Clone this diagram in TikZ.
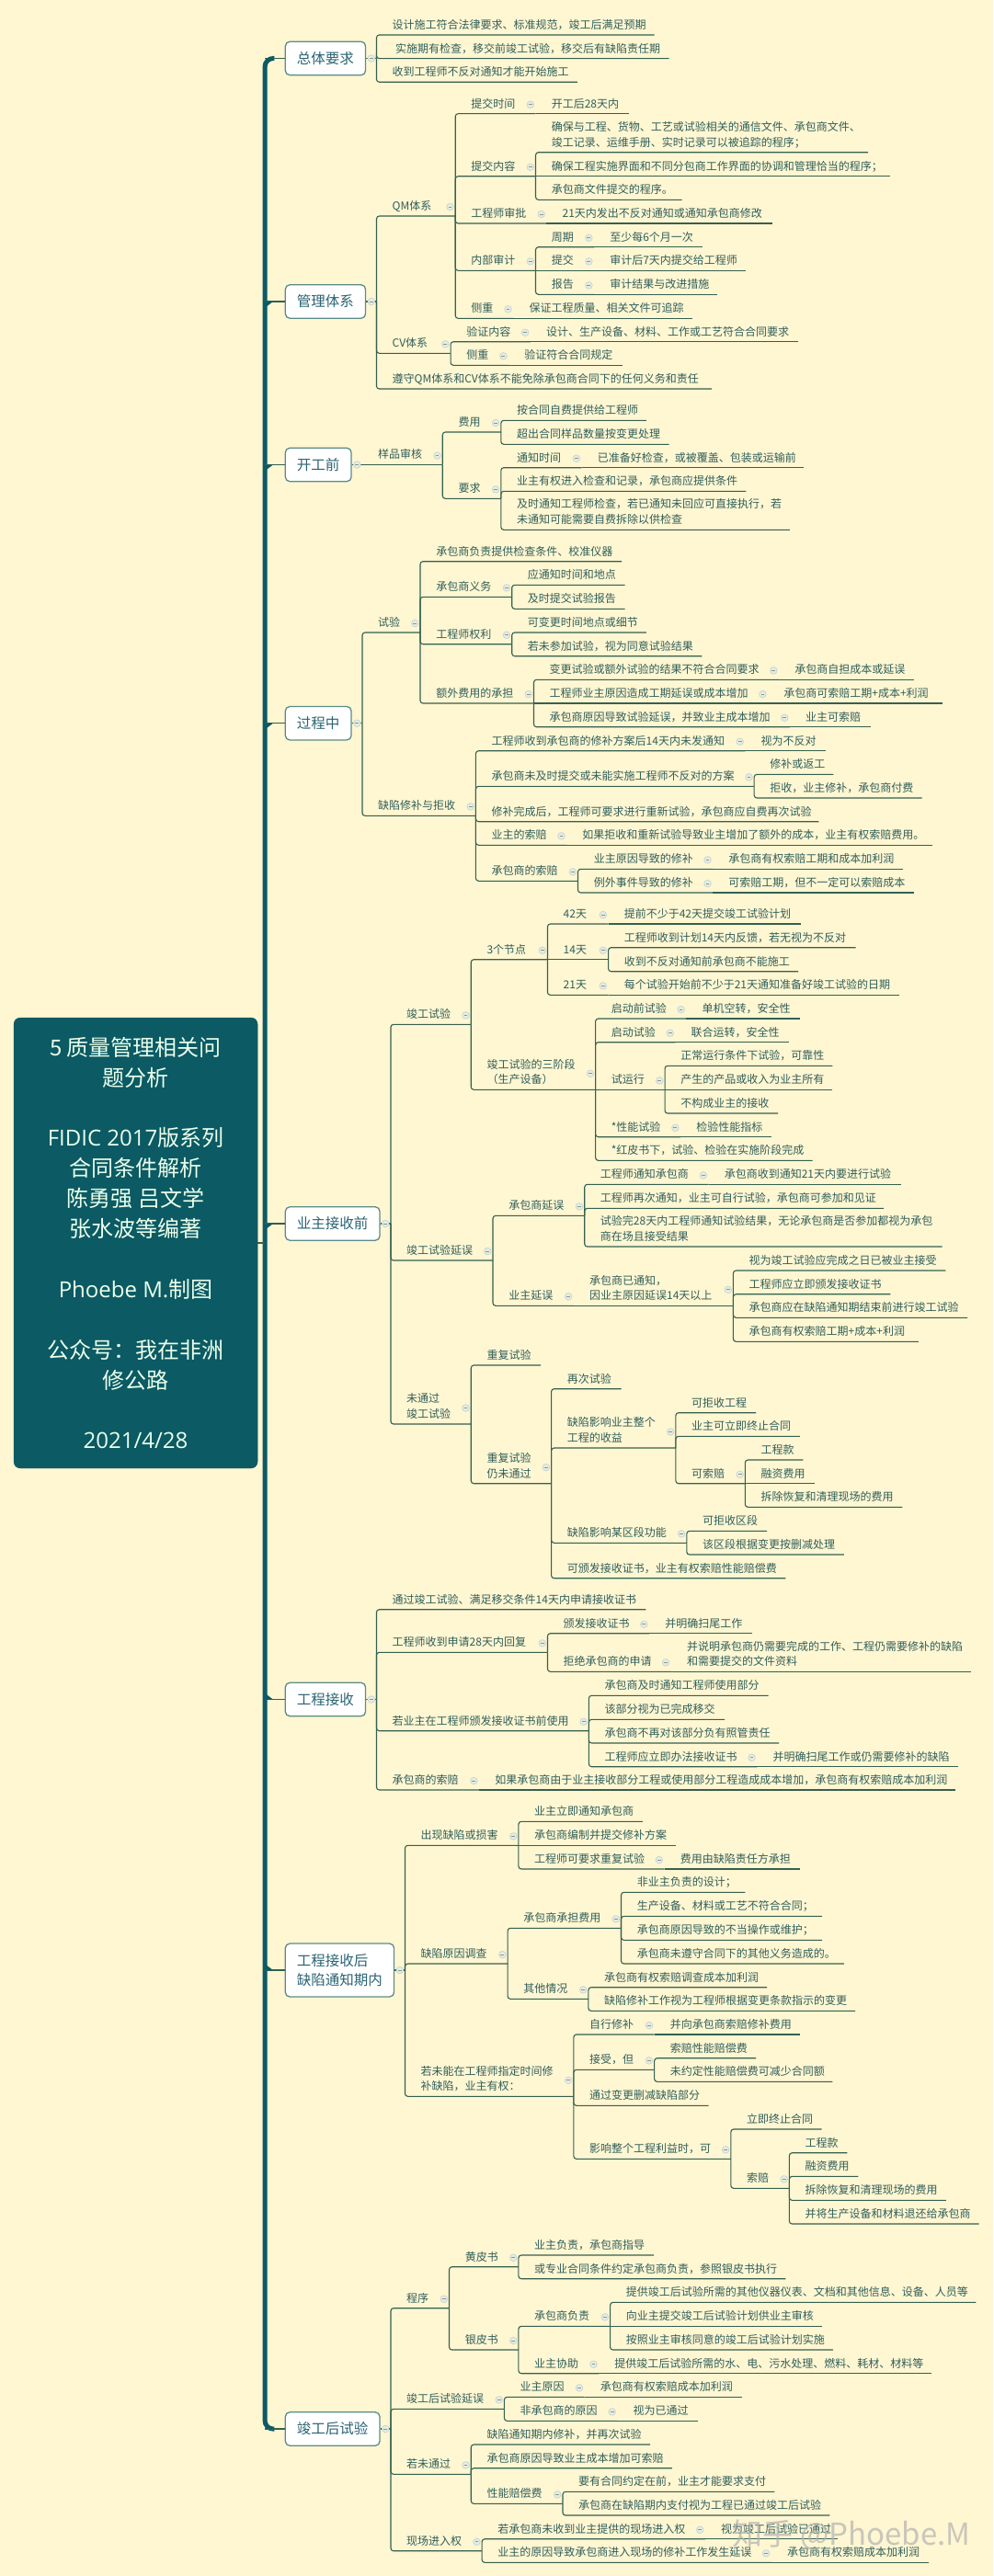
\documentclass[tikz,border=0pt]{standalone}
\usepackage{fontspec}
\setmainfont{Noto Sans CJK SC}
\newfontfamily\latf{Open Sans}
\definecolor{bgc}{HTML}{FFF6D2}
\definecolor{tealc}{HTML}{0B5A64}
\definecolor{linec}{HTML}{35604F}
\definecolor{txtc}{HTML}{2F5F5A}
\definecolor{topicline}{HTML}{5C8C88}
\definecolor{topictxt}{HTML}{2B6472}
\definecolor{circf}{HTML}{E6EDE0}
\definecolor{circl}{HTML}{C4D5D2}
\tikzset{
 ln/.style={draw=linec,line width=1.1pt},
 txt/.style={anchor=south west,inner sep=0pt,align=left,text=txtc,font=\fontsize{12}{16.7}\selectfont},
 topicbox/.style={draw=topicline,line width=1.3pt,fill=white,rounded corners=5pt,inner sep=0pt,align=left,text=topictxt,font=\fontsize{15.5}{21.3}\selectfont},
 rootbox/.style={fill=tealc,draw=tealc,rounded corners=7pt,inner sep=0pt,align=center,text=white!92!green,font=\fontsize{24}{32.9}\selectfont,minimum width=265pt,minimum height=490pt},
 trunk/.style={draw=tealc,line width=5pt,rounded corners=9pt},
 marktxt/.style={inner sep=0pt,text=gray!60,opacity=.7,font=\fontsize{33}{36}\selectfont},
}
% mark on the parent (small collapse circle), drawn once
\newcommand\Mk[1]{%
  \ifcsname mk@#1\endcsname\else
    \expandafter\gdef\csname mk@#1\endcsname{1}%
    \coordinate (mktmp) at (#1-e |- #1.center);
    \fill[circf] ([xshift=-5.7pt]mktmp) circle [radius=3.8pt];
    \draw[circl,line width=.7pt] ([xshift=-5.7pt]mktmp) circle [radius=3.8pt];
    \draw[circl!70!black,line width=.6pt] ([xshift=-7.6pt]mktmp) -- ([xshift=-3.8pt]mktmp);
  \fi}
\newcommand\Keep[3]{%
  \expandafter\xdef\csname px@#1\endcsname{#2}%
  \expandafter\xdef\csname py@#1\endcsname{#3}}
% parent, name, x end, y of underline, text
\newcommand\It[5]{%
  \edef\mypx{\csname px@#1\endcsname}\edef\mypy{\csname py@#1\endcsname}%
  \coordinate (#2-s) at (\mypx,#4);
  \coordinate (#2-e) at (#3,#4);
  \node[txt] (#2) at ({\mypx+33},#4-1.4) {#5\strut};
  \ifdim\mypy pt=#4pt
    \draw[ln] (#1-e) -- (#2-e);
  \else
    \draw[ln,rounded corners=3pt] (#1-e) -- (#2-s) -- (#2-e);
  \fi
  \Mk{#1}%
  \Keep{#2}{#3}{#4}}
% [height], name, left, right, bracket x, centre y, text
\newcommand\Tp[6][36.5]{%
  \pgfmathsetmacro\mytw{(#4-#3)*0.51658}%
  \node[topicbox,minimum width=\mytw pt,minimum height=#1pt] (#2) at ({(#3+#4)/2},#6) {\mytopictext};
  \coordinate (#2-e) at (#5,#6);
  \coordinate (#2-t) at (35,#6);
  \draw[ln] (#2.east) -- (#2-e);
  \draw[ln] (#2-t) -- (#2.west);
  \ifdim#6pt<1352pt
    \fill[tealc] (37,#6) -- (52,#6) -- (37,#6+6) -- cycle;
  \else
    \fill[tealc] (37,#6) -- (52,#6) -- (37,#6-6) -- cycle;
  \fi
  \Keep{#2}{#5}{#6}}
\begin{document}
\begin{tikzpicture}[x=0.51658pt,y=-1pt]
\useasboundingbox (-522.66,0) rectangle (1568,2802);
\fill[bgc] (-522.66,0) rectangle (1568,2802);
\node[rootbox] (root) at (-237,1352) {5 质量管理相关问\\题分析\\~\\{\latf FIDIC 2017}版系列\\合同条件解析\\陈勇强 吕文学\\张水波等编著\\~\\{\latf Phoebe M.}制图\\~\\公众号：我在非洲\\修公路\\~\\{\latf 2021/4/28}};
\coordinate (tr-a) at (55,63.5);
\coordinate (tr-b) at (55,2642);
\coordinate (tr-m) at (35,1352);
\draw[trunk] (tr-a) -- (35,63.5) -- (35,2642) -- (tr-b);
\draw[ln] (root.east) -- (tr-m);
% ---- 总体要求
\def\mytopictext{总体要求}\Tp{ta}{78}{247}{270}{63.5}
\It{ta}{a1}{855}{38}{设计施工符合法律要求、标准规范，竣工后满足预期}
\It{ta}{a2}{886}{63.7}{\hspace{3.5pt}实施期有检查，移交前竣工试验，移交后有缺陷责任期}
\It{ta}{a3}{693}{89.3}{收到工程师不反对通知才能开始施工}
% ---- 管理体系
\def\mytopictext{管理体系}\Tp{tb}{78}{247}{270}{328}
\It{tb}{b1}{436}{235}{QM体系}
\It{b1}{b11}{605}{123.7}{提交时间}
\It{b11}{b111}{802}{123.7}{开工后28天内}
\It{b1}{b12}{605}{191.7}{提交内容}
\It{b12}{b121}{1305}{165.7}{确保与工程、货物、工艺或试验相关的通信文件、承包商文件、\\竣工记录、运维手册、实时记录可以被追踪的程序；}
\It{b12}{b122}{1352}{191.7}{确保工程实施界面和不同分包商工作界面的协调和管理恰当的程序；}
\It{b12}{b123}{913}{217.3}{承包商文件提交的程序。}
\It{b1}{b13}{628}{243}{工程师审批}
\It{b13}{b131}{1103}{243}{21天内发出不反对通知或通知承包商修改}
\It{b1}{b14}{605}{294.3}{内部审计}
\It{b14}{b141}{728}{268.7}{周期}
\It{b141}{b1411}{957}{268.7}{至少每6个月一次}
\It{b14}{b142}{728}{294.3}{提交}
\It{b142}{b1421}{1048}{294.3}{审计后7天内提交给工程师}
\It{b14}{b143}{728}{320.3}{报告}
\It{b143}{b1431}{988}{320.3}{审计结果与改进措施}
\It{b1}{b15}{558}{346.3}{侧重}
\It{b15}{b151}{935}{346.3}{保证工程质量、相关文件可追踪}
\It{tb}{b2}{426}{384.3}{CV体系}
\It{b2}{b21}{594}{371.7}{验证内容}
\It{b21}{b211}{1157}{371.7}{设计、生产设备、材料、工作或工艺符合合同要求}
\It{b2}{b22}{548}{397.3}{侧重}
\It{b22}{b221}{787}{397.3}{验证符合合同规定}
\It{tb}{b3}{976}{423}{遵守QM体系和CV体系不能免除承包商合同下的任何义务和责任}
% ---- 开工前
\def\mytopictext{开工前}\Tp{tc}{78}{217}{240}{505.5}
\It{tc}{c1}{409}{505.5}{样品审核}
\It{c1}{c11}{532}{470}{费用}
\It{c11}{c111}{838}{457.3}{按合同自费提供给工程师}
\It{c11}{c112}{886}{483.3}{超出合同样品数量按变更处理}
\It{c1}{c12}{532}{542.3}{要求}
\It{c12}{c121}{702}{508.7}{通知时间}
\It{c121}{c1211}{1170}{508.7}{已准备好检查，或被覆盖、包装或运输前}
\It{c12}{c122}{1048}{534.3}{业主有权进入检查和记录，承包商应提供条件}
\It{c12}{c123}{1140}{576.3}{及时通知工程师检查，若已通知未回应可直接执行，若\\未通知可能需要自费拆除以供检查}
% ---- 过程中
\def\mytopictext{过程中}\Tp{td}{78}{217}{240}{786.7}
\It{td}{d1}{362}{688}{试验}
\It{d1}{d11}{786}{610.7}{承包商负责提供检查条件、校准仪器}
\It{d1}{d12}{555}{649.3}{承包商义务}
\It{d12}{d121}{793}{636.3}{应通知时间和地点}
\It{d12}{d122}{793}{662.3}{及时提交试验报告}
\It{d1}{d13}{555}{700.7}{工程师权利}
\It{d13}{d131}{838}{688}{可变更时间地点或细节}
\It{d13}{d132}{955}{713.7}{若未参加试验，视为同意试验结果}
\It{d1}{d14}{601}{765}{额外费用的承担}
\It{d14}{d141}{1117}{739.3}{变更试验或额外试验的结果不符合合同要求}
\It{d141}{d1411}{1402}{739.3}{承包商自担成本或延误}
\It{d14}{d142}{1094}{765}{工程师业主原因造成工期延误或成本增加}
\It{d142}{d1421}{1461}{765}{承包商可索赔工期+成本+利润}
\It{d14}{d143}{1140}{790.7}{承包商原因导致试验延误，并致业主成本增加}
\It{d143}{d1431}{1310}{790.7}{业主可索赔}
\It{td}{d2}{479}{887.3}{缺陷修补与拒收}
\It{d2}{d21}{1046}{816.7}{工程师收到承包商的修补方案后14天内未发通知}
\It{d21}{d211}{1215}{816.7}{视为不反对}
\It{d2}{d22}{1065}{855.3}{承包商未及时提交或未能实施工程师不反对的方案}
\It{d22}{d221}{1232}{842.3}{修补或返工}
\It{d22}{d222}{1418}{868}{拒收，业主修补，承包商付费}
\It{d2}{d23}{1201}{893.7}{修补完成后，工程师可要求进行重新试验，承包商应自费再次试验}
\It{d2}{d24}{670}{919.3}{业主的索赔}
\It{d24}{d241}{1440}{919.3}{如果拒收和重新试验导致业主增加了额外的成本，业主有权索赔费用。}
\It{d2}{d25}{694}{958.3}{承包商的索赔}
\It{d25}{d251}{978}{945.3}{业主原因导致的修补}
\It{d251}{d2511}{1378}{945.3}{承包商有权索赔工期和成本加利润}
\It{d25}{d252}{978}{971}{例外事件导致的修补}
\It{d252}{d2521}{1402}{971}{可索赔工期，但不一定可以索赔成本}
% ---- 业主接收前
\def\mytopictext{业主接收前}\Tp{te}{78}{277}{300}{1331}
\It{te}{e1}{469}{1114.3}{竣工试验}
\It{e1}{e11}{630}{1043.7}{3个节点}
\It{e11}{e111}{758}{1005}{42天}
\It{e111}{e1111}{1163}{1005}{提前不少于42天提交竣工试验计划}
\It{e11}{e112}{758}{1043.7}{14天}
\It{e112}{e1121}{1279}{1030.7}{工程师收到计划14天内反馈，若无视为不反对}
\It{e112}{e1122}{1158}{1056.7}{收到不反对通知前承包商不能施工}
\It{e11}{e113}{758}{1082.3}{21天}
\It{e113}{e1131}{1370}{1082.3}{每个试验开始前不少于21天通知准备好竣工试验的日期}
\It{e1}{e12}{731}{1185.3}{竣工试验的三阶段\\（生产设备）}
\It{e12}{e121}{922}{1108}{启动前试验}
\It{e121}{e1211}{1161}{1108}{单机空转，安全性}
\It{e12}{e122}{899}{1133.7}{启动试验}
\It{e122}{e1221}{1138}{1133.7}{联合运转，安全性}
\It{e12}{e123}{877}{1185.3}{试运行}
\It{e123}{e1231}{1230}{1159.3}{正常运行条件下试验，可靠性}
\It{e123}{e1232}{1230}{1185.3}{产生的产品或收入为业主所有}
\It{e123}{e1233}{1115}{1211}{不构成业主的接收}
\It{e12}{e124}{910}{1236.7}{*性能试验}
\It{e124}{e1241}{1102}{1236.7}{检验性能指标}
\It{e12}{e125}{1188}{1262.3}{*红皮书下，试验、检验在实施阶段完成}
\It{te}{e2}{515}{1371}{竣工试验延误}
\It{e2}{e21}{708}{1322.3}{承包商延误}
\It{e21}{e211}{969}{1288.3}{工程师通知承包商}
\It{e211}{e2111}{1375}{1288.3}{承包商收到通知21天内要进行试验}
\It{e21}{e212}{1338}{1314.3}{工程师再次通知，业主可自行试验，承包商可参加和见证}
\It{e21}{e213}{1461}{1356}{试验完28天内工程师通知试验结果，无论承包商是否参加都视为承包\\商在场且接受结果}
\It{e2}{e22}{685}{1420.3}{业主延误}
\It{e22}{e221}{1021}{1420.3}{承包商已通知，\\因业主原因延误14天以上}
\It{e221}{e2211}{1468}{1382}{视为竣工试验应完成之日已被业主接受}
\It{e221}{e2212}{1352}{1407.7}{工程师应立即颁发接收证书}
\It{e221}{e2213}{1514}{1433.3}{承包商应在缺陷通知期结束前进行竣工试验}
\It{e221}{e2214}{1411}{1459.3}{承包商有权索赔工期+成本+利润}
\It{te}{e3}{469}{1549}{未通过\\竣工试验}
\It{e3}{e31}{616}{1485}{重复试验}
\It{e3}{e32}{638}{1613.7}{重复试验\\仍未通过}
\It{e32}{e321}{785}{1510.7}{再次试验}
\It{e32}{e322}{900}{1575}{缺陷影响业主整个\\工程的收益}
\It{e322}{e3221}{1069}{1536.7}{可拒收工程}
\It{e322}{e3222}{1161}{1562.3}{业主可立即终止合同}
\It{e322}{e3223}{1046}{1613.7}{可索赔}
\It{e3223}{e32231}{1168}{1588}{工程款}
\It{e3223}{e32232}{1192}{1613.7}{融资费用}
\It{e3223}{e32233}{1377}{1639.3}{拆除恢复和清理现场的费用}
\It{e32}{e323}{923}{1678.3}{缺陷影响某区段功能}
\It{e323}{e3231}{1092}{1665.3}{可拒收区段}
\It{e323}{e3232}{1254}{1691}{该区段根据变更按删减处理}
\It{e32}{e324}{1131}{1716.7}{可颁发接收证书，业主有权索赔性能赔偿费}
% ---- 工程接收
\def\mytopictext{工程接收}\Tp{tf}{78}{247}{270}{1848.5}
\It{tf}{f1}{837}{1750.7}{通过竣工试验、满足移交条件14天内申请接收证书}
\It{tf}{f2}{630}{1797.3}{工程师收到申请28天内回复}
\It{f2}{f21}{844}{1776.7}{颁发接收证书}
\It{f21}{f211}{1060}{1776.7}{并明确扫尾工作}
\It{f2}{f22}{890}{1818.3}{拒绝承包商的申请}
\It{f22}{f221}{1522}{1818.3}{并说明承包商仍需要完成的工作、工程仍需要修补的缺陷\\和需要提交的文件资料}
\It{tf}{f3}{717}{1882.7}{若业主在工程师颁发接收证书前使用}
\It{f3}{f31}{1095}{1844.3}{承包商及时通知工程师使用部分}
\It{f3}{f32}{1003}{1870.3}{该部分视为已完成移交}
\It{f3}{f33}{1117}{1896}{承包商不再对该部分负有照管责任}
\It{f3}{f34}{1071}{1921.7}{工程师应立即办法接收证书}
\It{f34}{f341}{1494}{1921.7}{并明确扫尾工作或仍需要修补的缺陷}
\It{tf}{f4}{486}{1947}{承包商的索赔}
\It{f4}{f41}{1488}{1947}{如果承包商由于业主接收部分工程或使用部分工程造成成本增加，承包商有权索赔成本加利润}
% ---- 工程接收后缺陷通知期内
\def\mytopictext{工程接收后\\缺陷通知期内}\Tp[58]{tg}{78}{307}{330}{2143}
\It{tg}{g1}{569}{2007.3}{出现缺陷或损害}
\It{g1}{g11}{830}{1981.3}{业主立即通知承包商}
\It{g1}{g12}{900}{2007.3}{承包商编制并提交修补方案}
\It{g1}{g13}{876}{2033}{工程师可要求重复试验}
\It{g13}{g131}{1161}{2033}{费用由缺陷责任方承担}
\It{tg}{g2}{546}{2136}{缺陷原因调查}
\It{g2}{g21}{785}{2097.3}{承包商承担费用}
\It{g21}{g211}{1046}{2058.3}{非业主负责的设计；}
\It{g21}{g212}{1208}{2084.3}{生产设备、材料或工艺不符合合同；}
\It{g21}{g213}{1208}{2110.3}{承包商原因导致的不当操作或维护；}
\It{g21}{g214}{1254}{2136}{承包商未遵守合同下的其他义务造成的。}
\It{g2}{g22}{716}{2174.3}{其他情况}
\It{g22}{g221}{1092}{2161.7}{承包商有权索赔调查成本加利润}
\It{g22}{g222}{1278}{2187.3}{缺陷修补工作视为工程师根据变更条款指示的变更}
\It{tg}{g3}{685}{2280.3}{若未能在工程师指定时间修\\补缺陷，业主有权：}
\It{g3}{g31}{855}{2213}{自行修补}
\It{g31}{g311}{1161}{2213}{并向承包商索赔修补费用}
\It{g3}{g32}{855}{2251.3}{接受，但}
\It{g32}{g321}{1069}{2238.7}{索赔性能赔偿费}
\It{g32}{g322}{1230}{2264.3}{未约定性能赔偿费可减少合同额}
\It{g3}{g33}{969}{2290.3}{通过变更删减缺陷部分}
\It{g3}{g34}{1016}{2348.3}{影响整个工程利益时，可}
\It{g34}{g341}{1207}{2316}{立即终止合同}
\It{g34}{g342}{1139}{2380.3}{索赔}
\It{g342}{g3421}{1261}{2341.7}{工程款}
\It{g342}{g3422}{1284}{2367.3}{融资费用}
\It{g342}{g3423}{1469}{2393.3}{拆除恢复和清理现场的费用}
\It{g342}{g3424}{1538}{2419}{并将生产设备和材料退还给承包商}
% ---- 竣工后试验
\def\mytopictext{竣工后试验}\Tp{th}{78}{277}{300}{2642}
\It{th}{h1}{423}{2510.7}{程序}
\It{h1}{h11}{569}{2465.7}{黄皮书}
\It{h11}{h111}{854}{2453}{业主负责，承包商指导}
\It{h11}{h112}{1131}{2478.7}{或专业合同条件约定承包商负责，参照银皮书执行}
\It{h1}{h12}{569}{2556}{银皮书}
\It{h12}{h121}{762}{2530.3}{承包商负责}
\It{h121}{h1211}{1532}{2504.3}{提供竣工后试验所需的其他仪器仪表、文档和其他信息、设备、人员等}
\It{h121}{h1212}{1208}{2530.3}{向业主提交竣工后试验计划供业主审核}
\It{h121}{h1213}{1231}{2556}{按照业主审核同意的竣工后试验计划实施}
\It{h12}{h122}{738}{2581.7}{业主协助}
\It{h122}{h1221}{1439}{2581.7}{提供竣工后试验所需的水、电、污水处理、燃料、耗材、材料等}
\It{th}{h2}{539}{2620.3}{竣工后试验延误}
\It{h2}{h21}{708}{2607.3}{业主原因}
\It{h21}{h211}{1039}{2607.3}{承包商有权索赔成本加利润}
\It{h2}{h22}{777}{2633.3}{非承包商的原因}
\It{h22}{h221}{946}{2633.3}{视为已通过}
\It{th}{h3}{469}{2691.3}{若未通过}
\It{h3}{h31}{846}{2659}{缺陷通知期内修补，并再次试验}
\It{h3}{h32}{892}{2684.7}{承包商原因导致业主成本增加可索赔}
\It{h3}{h33}{662}{2723.3}{性能赔偿费}
\It{h33}{h331}{1108}{2710.3}{要有合同约定在前，业主才能要求支付}
\It{h33}{h332}{1224}{2736}{承包商在缺陷期内支付视为工程已通过竣工后试验}
\It{th}{h4}{492}{2774.7}{现场进入权}
\It{h4}{h41}{962}{2761.7}{若承包商未收到业主提供的现场进入权}
\It{h41}{h411}{1240}{2761.7}{视为竣工后试验已通过}
\It{h4}{h42}{1101}{2787.3}{业主的原因导致承包商进入现场的修补工作发生延误}
\It{h42}{h421}{1432}{2787.3}{承包商有权索赔成本加利润}
\node[marktxt,anchor=center] (wm) at (1270,2757) {知乎 @Phoebe.M};
\end{tikzpicture}
\end{document}
